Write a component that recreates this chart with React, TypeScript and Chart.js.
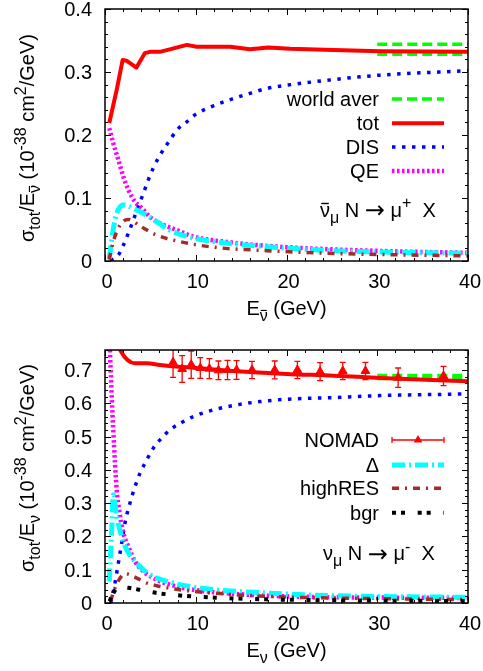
import React, { useEffect, useRef } from "react";
import { Chart, registerables } from "chart.js";

Chart.register(...registerables);

const FONT = '"Liberation Sans", Arial, Helvetica, "DejaVu Sans", sans-serif';
const ARROW_FONT = '"DejaVu Sans", "Liberation Sans", sans-serif';
const FS = 20;

// ---------------- data ----------------
const xTickLabels = [0, 10, 20, 30, 40];
const yTickLabelsTop = [0, 0.1, 0.2, 0.3, 0.4];
const yTickLabelsBottom = [0, 0.1, 0.2, 0.3, 0.4, 0.5, 0.6, 0.7];

// antineutrino panel (top)
const aTotE = [0.47, 1.28, 1.94, 2.37, 3.46, 4.4, 4.95, 6.04, 7.13, 9.02, 10.1, 13.8, 15.96, 18.0, 20.4, 25.2, 30.3, 40];
const aTotS = [0.219, 0.271, 0.319, 0.318, 0.307, 0.33, 0.332, 0.332, 0.336, 0.343, 0.34, 0.34, 0.336, 0.339, 0.337, 0.335, 0.333, 0.332];
const aDisE = [0.62, 1.48, 2.02, 2.57, 3.12, 3.66, 4.22, 4.75, 5.33, 5.94, 6.64, 8.12, 9.02, 9.91, 11.89, 13.98, 15.96, 17.85, 20.03, 25.2, 30.3, 40];
const aDisS = [0, 0.0095, 0.025, 0.044, 0.065, 0.086, 0.107, 0.128, 0.148, 0.165, 0.181, 0.211, 0.221, 0.232, 0.246, 0.257, 0.266, 0.274, 0.279, 0.288, 0.295, 0.302];
const aQeE = [0.47, 0.91, 1.48, 2.02, 2.57, 3.31, 4.06, 4.95, 6.04, 7.93, 9.71, 14.2, 20.0, 30.3, 40];
const aQeS = [0.211, 0.187, 0.16, 0.134, 0.113, 0.094, 0.084, 0.07, 0.06, 0.049, 0.039, 0.029, 0.022, 0.016, 0.013];
const aDeltaE = [0.47, 0.73, 1.1, 1.48, 2.02, 2.57, 3.46, 4.55, 5.69, 7.13, 9.36, 11.9, 17.85, 25.2, 40];
const aDeltaS = [0.004, 0.033, 0.065, 0.082, 0.089, 0.0873, 0.081, 0.073, 0.0624, 0.049, 0.0376, 0.031, 0.0227, 0.0164, 0.012];
const aHighE = [0.45, 0.9, 1.4, 2.0, 2.6, 3.9, 5.7, 8.2, 11.9, 17.85, 25.2, 40];
const aHighS = [0.002, 0.03, 0.05, 0.063, 0.066, 0.055, 0.041, 0.031, 0.022, 0.0164, 0.012, 0.008];
const aWorldE = [30, 40];
const aWorldHi = [0.344, 0.344];
const aWorldLo = [0.328, 0.328];

// neutrino panel (bottom)
const nTotE = [1.3, 1.75, 3.3, 4.6, 6.06, 7.5, 10.0, 14.1, 20.0, 25.2, 30.3, 40];
const nTotS = [0.79, 0.756, 0.72, 0.72, 0.715, 0.711, 0.706, 0.697, 0.688, 0.683, 0.676, 0.666];
const nDisE = [0.63, 1.1, 1.47, 1.84, 2.2, 2.75, 3.31, 3.86, 4.6, 5.32, 6.06, 7.16, 8.63, 9.73, 11.93, 14.5, 17.08, 20.02, 25.16, 30.3, 40];
const nDisS = [0, 0.06, 0.12, 0.18, 0.24, 0.3, 0.35, 0.39, 0.43, 0.465, 0.49, 0.52, 0.545, 0.56, 0.58, 0.595, 0.605, 0.612, 0.617, 0.623, 0.628];
const nQeE = [0.42, 0.74, 0.91, 1.1, 1.29, 1.58, 2.02, 2.57, 3.31, 4.22, 5.32, 7.16, 9.73, 14.0, 20.0, 40];
const nQeS = [0.85, 0.62, 0.52, 0.42, 0.34, 0.275, 0.21, 0.17, 0.125, 0.095, 0.075, 0.055, 0.04, 0.028, 0.02, 0.015];
const nDeltaE = [0.47, 0.74, 0.91, 1.29, 1.84, 2.39, 3.49, 4.96, 7.53, 10.47, 17.8, 25.2, 40];
const nDeltaS = [0.065, 0.22, 0.325, 0.26, 0.2, 0.16, 0.12, 0.085, 0.06, 0.045, 0.03, 0.022, 0.017];
const nHighE = [0.6, 1.1, 1.5, 2.2, 3.5, 4.4, 5.7, 7.7, 10.5, 17.8, 25.2, 40];
const nHighS = [0.005, 0.045, 0.068, 0.088, 0.075, 0.062, 0.052, 0.042, 0.033, 0.02, 0.015, 0.01];
const nBgrE = [0.5, 0.75, 1.1, 1.8, 2.75, 3.75, 5.7, 8.5, 12.2, 17.8, 25.2, 40];
const nBgrS = [0.005, 0.02, 0.038, 0.048, 0.045, 0.04, 0.03, 0.022, 0.016, 0.011, 0.008, 0.006];
const nWorldE = [30, 40];
const nWorldHi = [0.6835, 0.6835];
const nWorldLo = [0.6745, 0.6745];
const nomadE = [7.5, 8.5, 9.5, 10.5, 11.5, 12.5, 13.5, 14.5, 16.2, 18.7, 21.2, 23.7, 26.2, 28.7, 32.3, 37.3];
const nomadS = [0.723, 0.703, 0.716, 0.706, 0.704, 0.699, 0.7, 0.7, 0.7, 0.7, 0.7, 0.695, 0.697, 0.697, 0.677, 0.682];
const nomadErr = [0.045, 0.04, 0.041, 0.031, 0.03, 0.028, 0.029, 0.028, 0.026, 0.027, 0.026, 0.027, 0.026, 0.026, 0.029, 0.029];

// ---------------- styles ----------------
type Seg = { t: string; k?: "sub" | "sup"; bar?: boolean; f?: string; sc?: number };
type LineSpec = { e: number[]; s: number[]; color: string; width: number; dash: number[]; smooth: boolean; order: number };
type LegendItem = { label: Seg[]; color: string; width: number; dash: number[]; kind: "line" | "err" };

const RED = "#ff0000";
const BLUE = "#0000ff";
const MAGENTA = "#ff00ff";
const CYAN = "#00ffff";
const BROWN = "#a52a2a";
const GREEN = "#00ff00";
const BLACK = "#000000";

const stTot = { color: RED, width: 4, dash: [] as number[] };
const stDis = { color: BLUE, width: 3.5, dash: [3.5, 6.5] };
const stQe = { color: MAGENTA, width: 4.5, dash: [2.5, 2.5] };
const stDelta = { color: CYAN, width: 5, dash: [13, 4, 2, 4] };
const stHigh = { color: BROWN, width: 3.5, dash: [7, 6, 2, 6] };
const stBgr = { color: BLACK, width: 4, dash: [4, 5, 4, 12.7] };
const stWorld = { color: GREEN, width: 3.5, dash: [10, 5] };

type Panel = {
  height: number;
  area: { left: number; right: number; top: number; bottom: number };
  yMax: number;
  yTicks: number[];
  lines: LineSpec[];
  nomad: boolean;
  legend: LegendItem[];
  legendY: number[];
  yTitle: Seg[];
  xTitle: Seg[];
  note: Seg[];
  noteX: number;
  noteY: number;
};

const ARROW: Seg = { t: "→", f: ARROW_FONT, sc: 1.2 };

const topPanel: Panel = {
  height: 330,
  area: { left: 105, right: 468, top: 9, bottom: 261 },
  yMax: 0.4,
  yTicks: yTickLabelsTop,
  lines: [
    { e: aWorldE, s: aWorldHi, ...stWorld, smooth: false, order: 8 },
    { e: aWorldE, s: aWorldLo, ...stWorld, smooth: false, order: 8 },
    { e: aTotE, s: aTotS, ...stTot, smooth: false, order: 7 },
    { e: aDisE, s: aDisS, ...stDis, smooth: true, order: 6 },
    { e: aQeE, s: aQeS, ...stQe, smooth: true, order: 5 },
    { e: aDeltaE, s: aDeltaS, ...stDelta, smooth: true, order: 4 },
    { e: aHighE, s: aHighS, ...stHigh, smooth: true, order: 3 },
  ],
  nomad: false,
  legend: [
    { label: [{ t: "world aver" }], ...stWorld, kind: "line" },
    { label: [{ t: "tot" }], ...stTot, kind: "line" },
    { label: [{ t: "DIS" }], ...stDis, kind: "line" },
    { label: [{ t: "QE" }], ...stQe, kind: "line" },
  ],
  legendY: [99, 123.3, 147, 171],
  yTitle: [{ t: "σ" }, { t: "tot", k: "sub" }, { t: "/E" }, { t: "ν", k: "sub", bar: true }, { t: " (10" }, { t: "-38", k: "sup" }, { t: " cm" }, { t: "2", k: "sup" }, { t: "/GeV)" }],
  xTitle: [{ t: "E" }, { t: "ν", k: "sub", bar: true }, { t: " (GeV)" }],
  note: [{ t: "ν", bar: true }, { t: "μ", k: "sub" }, { t: " N " }, ARROW, { t: " μ" }, { t: "+", k: "sup" }, { t: "  X" }],
  noteX: 320,
  noteY: 216.7,
};

const bottomPanel: Panel = {
  height: 341,
  area: { left: 105, right: 468, top: 20, bottom: 273 },
  yMax: 0.76,
  yTicks: yTickLabelsBottom,
  lines: [
    { e: nWorldE, s: nWorldHi, ...stWorld, smooth: false, order: 9 },
    { e: nWorldE, s: nWorldLo, ...stWorld, smooth: false, order: 9 },
    { e: nTotE, s: nTotS, ...stTot, smooth: true, order: 8 },
    { e: nDisE, s: nDisS, ...stDis, smooth: true, order: 7 },
    { e: nQeE, s: nQeS, ...stQe, smooth: true, order: 6 },
    { e: nDeltaE, s: nDeltaS, ...stDelta, smooth: true, order: 5 },
    { e: nHighE, s: nHighS, ...stHigh, smooth: true, order: 4 },
    { e: nBgrE, s: nBgrS, ...stBgr, smooth: true, order: 3 },
  ],
  nomad: true,
  legend: [
    { label: [{ t: "NOMAD" }], color: RED, width: 1.5, dash: [], kind: "err" },
    { label: [{ t: "Δ" }], ...stDelta, kind: "line" },
    { label: [{ t: "highRES" }], ...stHigh, kind: "line" },
    { label: [{ t: "bgr" }], ...stBgr, kind: "line" },
  ],
  legendY: [110, 135, 158.3, 182.7],
  yTitle: [{ t: "σ" }, { t: "tot", k: "sub" }, { t: "/E" }, { t: "ν", k: "sub" }, { t: " (10" }, { t: "-38", k: "sup" }, { t: " cm" }, { t: "2", k: "sup" }, { t: "/GeV)" }],
  xTitle: [{ t: "E" }, { t: "ν", k: "sub" }, { t: " (GeV)" }],
  note: [{ t: "ν" }, { t: "μ", k: "sub" }, { t: " N " }, ARROW, { t: " μ" }, { t: "-", k: "sup" }, { t: "  X" }],
  noteX: 323,
  noteY: 230,
};

// ---------------- drawing helpers ----------------
function drawRich(ctx: CanvasRenderingContext2D, segs: Seg[], x: number, y: number, size: number, align: "left" | "center" | "right") {
  const fsOf = (s: Seg) => (s.k ? size * 0.8 : size) * (s.sc || 1);
  const fontOf = (s: Seg) => `${fsOf(s)}px ${s.f || FONT}`;
  let w = 0;
  for (const s of segs) {
    ctx.font = fontOf(s);
    w += ctx.measureText(s.t).width;
  }
  let cx = align === "left" ? x : align === "center" ? x - w / 2 : x - w;
  ctx.textAlign = "left";
  ctx.textBaseline = "alphabetic";
  for (const s of segs) {
    const fs = fsOf(s);
    ctx.font = fontOf(s);
    const dy = s.k === "sub" ? size * 0.3 : s.k === "sup" ? -size * 0.42 : s.sc ? size * 0.08 : 0;
    ctx.fillText(s.t, cx, y + dy);
    const sw = ctx.measureText(s.t).width;
    if (s.bar) {
      ctx.beginPath();
      ctx.setLineDash([]);
      ctx.lineWidth = Math.max(1, fs * 0.07);
      const by = y + dy - fs * 0.66;
      ctx.moveTo(cx + sw * 0.12, by);
      ctx.lineTo(cx + sw * 0.88, by);
      ctx.stroke();
    }
    cx += sw;
  }
}

function drawTriangle(ctx: CanvasRenderingContext2D, x: number, y: number, r: number) {
  ctx.beginPath();
  ctx.moveTo(x, y - r);
  ctx.lineTo(x + r * 0.866, y + r * 0.5);
  ctx.lineTo(x - r * 0.866, y + r * 0.5);
  ctx.closePath();
  ctx.fill();
}

function decoPlugin(p: Panel) {
  return {
    id: "deco",
    afterDatasetsDraw(chart: any) {
      if (!p.nomad) return;
      const ctx: CanvasRenderingContext2D = chart.ctx;
      const xs = chart.scales.x;
      const ys = chart.scales.y;
      const a = chart.chartArea;
      ctx.save();
      ctx.beginPath();
      ctx.rect(a.left, a.top, a.right - a.left, a.bottom - a.top);
      ctx.clip();
      ctx.strokeStyle = RED;
      ctx.lineWidth = 1.3;
      ctx.setLineDash([]);
      for (let i = 0; i < nomadE.length; i++) {
        const x = xs.getPixelForValue(nomadE[i]);
        const y1 = ys.getPixelForValue(nomadS[i] - nomadErr[i]);
        const y2 = ys.getPixelForValue(nomadS[i] + nomadErr[i]);
        ctx.beginPath();
        ctx.moveTo(x, y1);
        ctx.lineTo(x, y2);
        ctx.moveTo(x - 3, y1);
        ctx.lineTo(x + 3, y1);
        ctx.moveTo(x - 3, y2);
        ctx.lineTo(x + 3, y2);
        ctx.stroke();
      }
      ctx.restore();
    },
    afterDraw(chart: any) {
      const ctx: CanvasRenderingContext2D = chart.ctx;
      const xs = chart.scales.x;
      const ys = chart.scales.y;
      const { left, right, top, bottom } = chart.chartArea;
      ctx.save();
      ctx.setLineDash([]);
      ctx.strokeStyle = BLACK;
      ctx.fillStyle = BLACK;
      // ticks
      ctx.lineWidth = 1;
      ctx.beginPath();
      for (let i = 0; i <= 20; i++) {
        const v = i * 2;
        const px = Math.round(xs.getPixelForValue(v)) + 0.5;
        const len = i % 5 === 0 ? 6 : 3;
        ctx.moveTo(px, bottom);
        ctx.lineTo(px, bottom - len);
        ctx.moveTo(px, top);
        ctx.lineTo(px, top + len);
      }
      const nY = Math.round(p.yMax / 0.02);
      for (let i = 0; i <= nY; i++) {
        const v = i * 0.02;
        const py = Math.round(ys.getPixelForValue(v)) + 0.5;
        const len = i % 5 === 0 ? 6 : 3;
        ctx.moveTo(left, py);
        ctx.lineTo(left + len, py);
        ctx.moveTo(right, py);
        ctx.lineTo(right - len, py);
      }
      ctx.stroke();
      // frame
      ctx.lineWidth = 1.5;
      ctx.strokeRect(left, top, right - left, bottom - top);
      // tick labels
      ctx.font = `${FS}px ${FONT}`;
      ctx.textBaseline = "alphabetic";
      ctx.textAlign = "right";
      for (const v of p.yTicks) {
        const py = ys.getPixelForValue(v);
        ctx.fillText(v === 0 ? "0" : v.toFixed(1), 92, py + 7);
      }
      ctx.textAlign = "center";
      for (const v of xTickLabels) {
        const px = xs.getPixelForValue(v);
        ctx.fillText(String(v), px + 2, bottom + 27);
      }
      // axis titles
      drawRich(ctx, p.xTitle, (left + right) / 2, bottom + 54, FS, "center");
      ctx.save();
      ctx.translate(34, 138);
      ctx.rotate(-Math.PI / 2);
      drawRich(ctx, p.yTitle, 0, 0, FS, "center");
      ctx.restore();
      // legend
      const x0 = 392;
      const x1 = 444;
      p.legend.forEach((it, i) => {
        const y = p.legendY[i];
        ctx.fillStyle = BLACK;
        ctx.strokeStyle = BLACK;
        drawRich(ctx, it.label, 379, y + 7, FS, "right");
        ctx.strokeStyle = it.color;
        ctx.fillStyle = it.color;
        ctx.lineWidth = it.width;
        ctx.lineCap = "butt";
        ctx.setLineDash(it.dash);
        ctx.beginPath();
        ctx.moveTo(x0, y);
        ctx.lineTo(x1, y);
        ctx.stroke();
        ctx.setLineDash([]);
        if (it.kind === "err") {
          ctx.lineWidth = 1.3;
          ctx.beginPath();
          ctx.moveTo(x0, y - 3);
          ctx.lineTo(x0, y + 3);
          ctx.moveTo(x1, y - 3);
          ctx.lineTo(x1, y + 3);
          ctx.stroke();
          drawTriangle(ctx, (x0 + x1) / 2, y, 5);
        }
      });
      // reaction label
      ctx.fillStyle = BLACK;
      ctx.strokeStyle = BLACK;
      drawRich(ctx, p.note, p.noteX, p.noteY, FS, "left");
      ctx.restore();
    },
  };
}

function buildConfig(p: Panel): any {
  const datasets: any[] = p.lines.map((l) => ({
    data: l.e.map((x, i) => ({ x, y: l.s[i] })),
    showLine: true,
    borderColor: l.color,
    backgroundColor: l.color,
    borderWidth: l.width,
    borderDash: l.dash,
    borderCapStyle: "butt",
    borderJoinStyle: "round",
    pointRadius: 0,
    pointHoverRadius: 0,
    cubicInterpolationMode: l.smooth ? "monotone" : "default",
    capBezierPoints: false,
    tension: 0,
    fill: false,
    order: l.order,
    clip: 0,
  }));
  if (p.nomad) {
    datasets.push({
      data: nomadE.map((x, i) => ({ x, y: nomadS[i] })),
      showLine: false,
      pointStyle: "triangle",
      pointRadius: 5,
      pointHoverRadius: 5,
      borderWidth: 1,
      borderColor: RED,
      backgroundColor: RED,
      order: 0,
      clip: 0,
    });
  }
  return {
    type: "scatter",
    data: { datasets },
    options: {
      animation: false,
      responsive: false,
      maintainAspectRatio: false,
      events: [],
      elements: { line: { capBezierPoints: false } },
      layout: { padding: { left: 0, right: 483 - p.area.right, top: p.area.top, bottom: 0 } },
      plugins: { legend: { display: false }, tooltip: { enabled: false } },
      scales: {
        x: {
          type: "linear",
          min: 0,
          max: 40,
          ticks: { display: false },
          grid: { display: false },
          border: { display: false },
          afterFit: (s: any) => {
            s.height = p.height - p.area.bottom;
          },
        },
        y: {
          type: "linear",
          min: 0,
          max: p.yMax,
          ticks: { display: false },
          grid: { display: false },
          border: { display: false },
          afterFit: (s: any) => {
            s.width = p.area.left;
          },
        },
      },
    },
    plugins: [decoPlugin(p)],
  };
}

function PanelCanvas({ panel, top }: { panel: Panel; top: number }) {
  const ref = useRef<HTMLCanvasElement>(null);
  useEffect(() => {
    const chart = new Chart(ref.current as HTMLCanvasElement, buildConfig(panel));
    return () => chart.destroy();
  }, [panel]);
  return (
    <canvas
      ref={ref}
      width={483}
      height={panel.height}
      style={{ position: "absolute", left: 0, top, width: 483, height: panel.height }}
    />
  );
}

export default function App() {
  return (
    <div style={{ position: "fixed", left: 0, top: 0, width: 483, height: 671, background: "#ffffff" }}>
      <PanelCanvas panel={topPanel} top={0} />
      <PanelCanvas panel={bottomPanel} top={330} />
    </div>
  );
}
